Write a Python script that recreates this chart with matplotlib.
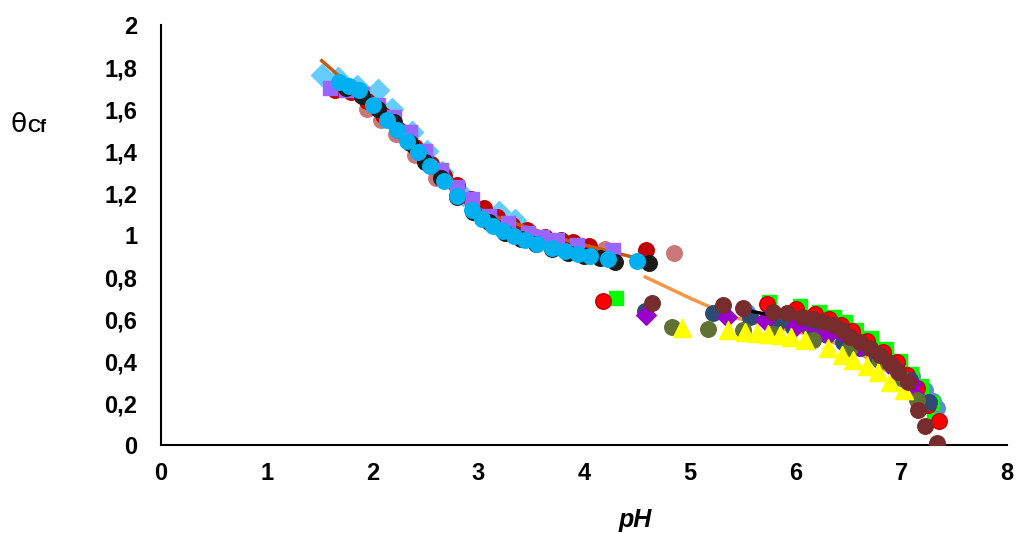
import matplotlib
matplotlib.use("Agg")
import matplotlib.pyplot as plt
from matplotlib.ticker import FuncFormatter, MultipleLocator

plt.rcParams["font.family"] = ["Liberation Sans", "DejaVu Sans"]

# ---- acidic branch (pH < 4.7) ----
ph_diam = [1.52, 1.67, 1.85, 2.05, 2.18, 2.37, 2.52, 2.66, 2.86, 3.20, 3.35]
th_diam = [1.76, 1.75, 1.71, 1.69, 1.60, 1.49, 1.40, 1.30, 1.19, 1.11, 1.07]

ph_pink = [1.95, 2.08, 2.22, 2.40, 2.60, 2.80, 3.00, 3.25, 3.50, 3.75, 3.95, 4.20, 4.85]
th_pink = [1.60, 1.55, 1.48, 1.38, 1.27, 1.19, 1.11, 1.04, 1.00, 0.97, 0.95, 0.935, 0.914]

ph_dred = [1.65, 1.80, 1.95, 2.10, 2.25, 2.40, 2.55, 2.68, 2.80, 2.93, 3.05, 3.18,
           3.32, 3.46, 3.63, 3.78, 3.90, 4.05, 4.59]
th_dred = [1.69, 1.68, 1.64, 1.57, 1.50, 1.42, 1.34, 1.28, 1.24, 1.17, 1.13, 1.085,
           1.05, 1.024, 0.99, 0.975, 0.967, 0.95, 0.93]

ph_sq = [1.60, 1.75, 1.90, 2.05, 2.20, 2.35, 2.50, 2.65, 2.80, 2.94, 3.10, 3.28,
         3.47, 3.60, 3.74, 3.93, 4.27]
th_sq = [1.70, 1.69, 1.67, 1.62, 1.56, 1.49, 1.40, 1.31, 1.23, 1.17, 1.09, 1.057,
         1.01, 0.99, 0.976, 0.952, 0.929]

ph_blk = [1.75, 1.90, 2.05, 2.20, 2.35, 2.50, 2.65, 2.80, 2.95, 3.10, 3.25, 3.40,
          3.55, 3.70, 3.85, 4.00, 4.15, 4.29, 4.61]
th_blk = [1.70, 1.66, 1.60, 1.54, 1.44, 1.35, 1.27, 1.18, 1.11, 1.06, 1.01, 0.98,
          0.955, 0.935, 0.915, 0.90, 0.89, 0.87, 0.865]

ph_cyan = [1.68, 1.78, 1.87, 2.00, 2.14, 2.23, 2.33, 2.43, 2.54, 2.68, 2.80, 2.94,
           3.04, 3.14, 3.23, 3.34, 3.44, 3.56, 3.70, 3.82, 3.94, 4.06, 4.23, 4.50]
th_cyan = [1.73, 1.71, 1.69, 1.62, 1.55, 1.50, 1.45, 1.395, 1.33, 1.257, 1.186, 1.12,
           1.076, 1.043, 1.019, 0.995, 0.976, 0.957, 0.938, 0.924, 0.91, 0.90, 0.886, 0.876]

ph_fit1 = [1.52, 1.70, 2.00, 2.30, 2.60, 2.90, 3.20, 3.50, 3.80, 4.10, 4.50]
th_fit1 = [1.83, 1.75, 1.62, 1.46, 1.28, 1.15, 1.08, 1.03, 0.98, 0.94, 0.89]

# ---- neutral branch (pH > 4.1) ----
ph_steel = [5.54, 5.78, 6.00, 6.20, 6.40, 6.60, 6.80, 6.95, 7.10, 7.22, 7.30, 7.34]
th_steel = [0.633, 0.62, 0.60, 0.58, 0.55, 0.50, 0.44, 0.39, 0.33, 0.26, 0.21, 0.176]

ph_green = [4.30, 5.75, 6.04, 6.22, 6.36, 6.47, 6.57, 6.71, 6.86, 6.99, 7.09, 7.19, 7.29, 7.31]
th_green = [0.70, 0.68, 0.66, 0.635, 0.61, 0.585, 0.55, 0.51, 0.455, 0.40, 0.34, 0.28, 0.20, 0.12]

ph_red = [4.18, 5.73, 6.00, 6.18, 6.32, 6.43, 6.53, 6.68, 6.83, 6.96, 7.05, 7.15, 7.25, 7.36]
th_red = [0.686, 0.672, 0.648, 0.624, 0.60, 0.571, 0.543, 0.495, 0.443, 0.395, 0.333, 0.27, 0.19, 0.114]

ph_fit2 = [4.58, 5.00, 5.40, 5.80, 6.20, 6.60, 6.90, 7.10]
th_fit2 = [0.80, 0.70, 0.61, 0.56, 0.52, 0.44, 0.34, 0.24]

ph_navy = [4.58, 5.22, 5.57, 5.83, 5.98, 6.14, 6.30, 6.45, 6.61, 6.77, 6.92, 7.08, 7.26]
th_navy = [0.638, 0.628, 0.61, 0.586, 0.562, 0.548, 0.524, 0.49, 0.462, 0.42, 0.371, 0.31, 0.205]

ph_vio = [4.59, 5.35, 5.71, 6.00, 6.30, 6.60, 6.90, 7.10]
th_vio = [0.62, 0.61, 0.595, 0.565, 0.53, 0.47, 0.38, 0.29]

ph_vline = [6.00, 6.30, 6.60, 6.92, 7.20]
th_vline = [0.565, 0.53, 0.47, 0.366, 0.24]

ph_kline = [5.55, 5.75]
th_kline = [0.64, 0.62]

ph_olive = [4.83, 5.17, 5.50, 5.80, 6.17, 6.52, 6.80, 7.00, 7.15]
th_olive = [0.562, 0.552, 0.548, 0.53, 0.50, 0.462, 0.40, 0.32, 0.214]

ph_yel = [4.93, 5.36, 5.52, 5.64, 5.74, 5.85, 5.96, 6.09, 6.31, 6.44, 6.54, 6.68,
          6.78, 6.89, 7.03]
th_yel = [0.557, 0.548, 0.538, 0.533, 0.529, 0.524, 0.514, 0.50, 0.462, 0.429,
          0.405, 0.376, 0.348, 0.30, 0.262]

ph_brown = [4.64, 5.31, 5.50, 5.79, 5.92, 6.06, 6.17, 6.26, 6.36, 6.44, 6.52, 6.61,
            6.70, 6.80, 6.89, 6.97, 7.06, 7.16, 7.22, 7.34]
th_brown = [0.676, 0.667, 0.652, 0.633, 0.628, 0.61, 0.60, 0.586, 0.571, 0.548, 0.514,
            0.49, 0.462, 0.43, 0.39, 0.348, 0.30, 0.167, 0.09, 0.01]

fig = plt.figure(figsize=(10.19, 5.33), dpi=100)
ax = fig.add_axes([161 / 1019, 88 / 533, 846 / 1019, 420 / 533])

S = 125
ax.scatter(ph_diam, th_diam, s=125, marker="D", color="#66CCFF", zorder=2)
ax.scatter(ph_pink, th_pink, s=S, marker="o", color="#CC7777", zorder=2)
ax.scatter(ph_dred, th_dred, s=S, marker="o", color="#C00000", zorder=2)
ax.plot(ph_fit1, th_fit1, color="#C55A11", lw=2.5, zorder=2)
ax.scatter(ph_sq, th_sq, s=110, marker="s", color="#9966FF", zorder=3)
ax.scatter(ph_blk, th_blk, s=S, marker="o", color="#1C1C1C", zorder=3)
ax.scatter(ph_cyan, th_cyan, s=S, marker="o", color="#00B0F0", zorder=3)

ax.scatter(ph_steel, th_steel, s=S, marker="o", color="#5B8FCF", zorder=2)
ax.scatter(ph_green, th_green, s=110, marker="s", color="#00FF00", zorder=2)
ax.scatter(ph_red, th_red, s=S, marker="o", color="#FF0000",
           edgecolors="#C00000", linewidths=1, zorder=2)
ax.plot(ph_fit2, th_fit2, color="#F79646", lw=2.5, zorder=2)
ax.scatter(ph_navy, th_navy, s=S, marker="o", color="#2E4B73", zorder=2)
ax.scatter(ph_vio, th_vio, s=100, marker="D", color="#9900CC", zorder=2)
ax.plot(ph_vline, th_vline, color="#9900CC", lw=2.5, zorder=2)
ax.plot(ph_kline, th_kline, color="black", lw=2.5, zorder=2)
ax.scatter(ph_olive, th_olive, s=S, marker="o", color="#5F7233", zorder=3)
ax.scatter(ph_yel, th_yel, s=170, marker="^", color="#FFFF00", zorder=3)
ax.scatter(ph_brown, th_brown, s=S, marker="o", color="#772D2D", zorder=3)

ax.set_xlim(0, 8)
ax.set_ylim(0, 2)
ax.xaxis.set_major_locator(MultipleLocator(1))
ax.yaxis.set_major_locator(MultipleLocator(0.2))
ax.yaxis.set_major_formatter(FuncFormatter(lambda v, p: f"{v:g}".replace(".", ",")))
ax.tick_params(length=0, labelsize=17)
ax.tick_params(axis="y", pad=17)
ax.tick_params(axis="x", pad=12)
for lab in ax.get_xticklabels() + ax.get_yticklabels():
    lab.set_fontweight("bold")

for side in ("top", "right"):
    ax.spines[side].set_visible(False)
for side in ("left", "bottom"):
    ax.spines[side].set_linewidth(1.5)
    ax.spines[side].set_color("black")

fig.text(635 / 1019, 1 - 520 / 533, "pH", fontsize=18, fontweight="bold",
         fontstyle="italic", ha="center", va="center")
fig.text(10 / 1019, 1 - 125 / 533, "θ", fontsize=19, ha="left", va="center",
         family=["DejaVu Sans"])
fig.text(27 / 1019, 1 - 127 / 533, "Cf", fontsize=13, fontweight="bold",
         ha="left", va="center")

fig.savefig("out.png", dpi=100, facecolor="white")
